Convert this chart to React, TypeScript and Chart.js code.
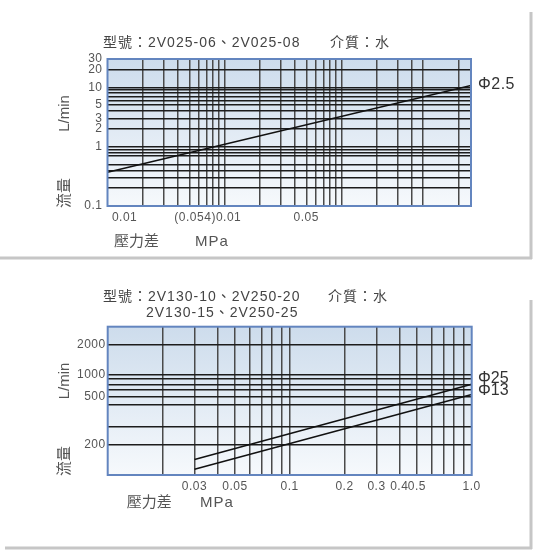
import React, { useEffect, useRef } from "react";
import { Chart, registerables } from "chart.js";

Chart.register(...registerables);

// ---------- Chart 1 : 2V025 (Φ2.5) ----------
const topCurveX = [0.001, 1.28];
const topCurveY = [0.37, 10.7];
const topXGrid = [
  0.002, 0.003, 0.004, 0.005, 0.006, 0.007, 0.008, 0.009, 0.01,
  0.02, 0.03, 0.04, 0.05, 0.06, 0.07, 0.08, 0.09, 0.1,
  0.2, 0.3, 0.4, 0.5, 1.0,
];
const topXLabelValues = [0.0014, 0.0072, 0.05];
const topXLabels = ["0.01", "(0.054)0.01", "0.05"];
const topYGrid = [20, 10, 9, 8, 7, 6, 5, 4, 3, 2, 1, 0.9, 0.8, 0.7, 0.5, 0.4, 0.3, 0.2];
const topYLabelValues = [30, 20, 10, 5, 3, 2, 1, 0.1];
const topYLabels = ["30", "20", "10", "5", "3", "2", "1", "0.1"];

// ---------- Chart 2 : 2V130 / 2V250 (Φ25, Φ13) ----------
const botCurveX = [0.03, 1.0];
const botPhi25Y = [143, 800];
const botPhi13Y = [114, 635];
const botXGrid = [
  0.02, 0.03, 0.04, 0.05, 0.06, 0.07, 0.08, 0.09, 0.1,
  0.2, 0.3, 0.4, 0.5, 0.6, 0.7, 0.8, 0.9,
];
const botXLabelValues = [0.03, 0.05, 0.1, 0.2, 0.3, 0.4, 0.5, 1.0];
const botXLabels = ["0.03", "0.05", "0.1", "0.2", "0.3", "0.4", "0.5", "1.0"];
const botYGrid = [2000, 1000, 900, 800, 700, 600, 500, 300, 200];
const botYLabelValues = [2000, 1000, 600, 200];
const botYLabels = ["2000", "1000", "500", "200"];

const FONT = "'Liberation Sans', Arial, 'Noto Sans CJK TC', sans-serif";

const near = (a: number, b: number) => Math.abs(a - b) / Math.abs(b) < 1e-6;
const has = (arr: number[], v: number) => arr.some((g) => near(g, v));
const merge = (grid: number[], labels: number[]) => {
  const all = [...grid];
  labels.forEach((v) => {
    if (!has(all, v)) all.push(v);
  });
  return all.sort((a, b) => a - b);
};

type TextItem = {
  text: string;
  x: number;
  y: number;
  size: number;
  rotate?: boolean;
  color?: string;
  spacing?: string;
};

type Spec = {
  top: number;
  w: number;
  h: number;
  padTop: number;
  padRight: number;
  yAxisW: number;
  xAxisH: number;
  xMin: number;
  xMax: number;
  yMin: number;
  yMax: number;
  xGrid: number[];
  xLabelValues: number[];
  xLabels: string[];
  yGrid: number[];
  yLabelValues: number[];
  yLabels: string[];
  tickSize: number;
  yTickPad: number;
  datasets: { xs: number[]; ys: number[] }[];
  texts: TextItem[];
  frame: { vx: number; vy0: number; vy1: number; hy: number; hx0: number; hx1: number };
};

function buildConfig(spec: Spec): any {
  const decor = {
    id: "decor",
    beforeDraw(chart: any) {
      const { ctx, chartArea: a } = chart;
      ctx.save();
      const g = ctx.createLinearGradient(0, a.top, 0, a.bottom);
      g.addColorStop(0, "#cddcec");
      g.addColorStop(1, "#f6f9fc");
      ctx.fillStyle = g;
      ctx.fillRect(a.left, a.top, a.right - a.left, a.bottom - a.top);
      ctx.restore();
      try {
        ctx.letterSpacing = "0.5px";
      } catch (e) {}
    },
    afterDraw(chart: any) {
      const { ctx, chartArea: a } = chart;
      ctx.save();
      ctx.strokeStyle = "#6385bf";
      ctx.lineWidth = 2;
      ctx.strokeRect(a.left, a.top, a.right - a.left, a.bottom - a.top);
      // panel frame
      ctx.strokeStyle = "#c6c6c6";
      ctx.lineWidth = 3;
      const f = spec.frame;
      ctx.beginPath();
      ctx.moveTo(f.vx, f.vy0);
      ctx.lineTo(f.vx, f.vy1);
      ctx.moveTo(f.hx0, f.hy);
      ctx.lineTo(f.hx1, f.hy);
      ctx.stroke();
      ctx.restore();
      spec.texts.forEach((t) => {
        ctx.save();
        ctx.font = `${t.size}px ${FONT}`;
        ctx.fillStyle = t.color || "#444";
        try {
          ctx.letterSpacing = t.spacing || "0px";
        } catch (e) {}
        ctx.textBaseline = "middle";
        if (t.rotate) {
          ctx.translate(t.x, t.y);
          ctx.rotate(-Math.PI / 2);
          ctx.textAlign = "center";
          ctx.fillText(t.text, 0, 0);
        } else {
          ctx.textAlign = "left";
          ctx.fillText(t.text, t.x, t.y);
        }
        ctx.restore();
      });
    },
  };

  const labelFor = (vals: number[], labels: string[]) => (v: number) => {
    const i = vals.findIndex((l) => near(v, l));
    return i >= 0 ? labels[i] : "";
  };

  return {
    type: "line",
    data: {
      datasets: spec.datasets.map((d) => ({
        data: d.xs.map((x, i) => ({ x, y: d.ys[i] })),
        borderColor: "#111",
        borderWidth: 1.5,
        pointRadius: 0,
        fill: false,
        tension: 0,
      })),
    },
    options: {
      responsive: false,
      animation: false,
      events: [],
      layout: { padding: { left: 0, top: spec.padTop, right: spec.padRight, bottom: 0 } },
      plugins: { legend: { display: false }, tooltip: { enabled: false }, title: { display: false } },
      scales: {
        x: {
          type: "logarithmic",
          min: spec.xMin,
          max: spec.xMax,
          afterBuildTicks: (s: any) => {
            s.ticks = merge(spec.xGrid, spec.xLabelValues).map((v) => ({ value: v }));
          },
          afterFit: (s: any) => {
            s.height = spec.xAxisH;
          },
          grid: {
            color: (c: any) => (c.tick && has(spec.xGrid, c.tick.value) ? "#4a4a4a" : "rgba(0,0,0,0)"),
            lineWidth: 1.5,
            drawTicks: false,
          },
          border: { display: false },
          ticks: {
            autoSkip: false,
            maxRotation: 0,
            minRotation: 0,
            padding: 4,
            color: "#555",
            font: { family: FONT, size: spec.tickSize },
            callback: labelFor(spec.xLabelValues, spec.xLabels),
          },
        },
        y: {
          type: "logarithmic",
          min: spec.yMin,
          max: spec.yMax,
          afterBuildTicks: (s: any) => {
            s.ticks = merge(spec.yGrid, spec.yLabelValues).map((v) => ({ value: v }));
          },
          afterFit: (s: any) => {
            s.width = spec.yAxisW;
          },
          grid: {
            color: (c: any) => (c.tick && has(spec.yGrid, c.tick.value) ? "#1c1c1c" : "rgba(0,0,0,0)"),
            lineWidth: 1.5,
            drawTicks: false,
          },
          border: { display: false },
          ticks: {
            autoSkip: false,
            padding: spec.yTickPad,
            color: "#555",
            font: { family: FONT, size: spec.tickSize },
            callback: labelFor(spec.yLabelValues, spec.yLabels),
          },
        },
      },
    },
    plugins: [decor],
  };
}

const topSpec: Spec = {
  top: 0,
  w: 537,
  h: 260,
  padTop: 59,
  padRight: 66,
  yAxisW: 107.5,
  xAxisH: 54,
  xMin: 0.001,
  xMax: 1.28,
  yMin: 0.1,
  yMax: 30,
  xGrid: topXGrid,
  xLabelValues: topXLabelValues,
  xLabels: topXLabels,
  yGrid: topYGrid,
  yLabelValues: topYLabelValues,
  yLabels: topYLabels,
  tickSize: 12,
  yTickPad: 5,
  datasets: [{ xs: topCurveX, ys: topCurveY }],
  texts: [
    { text: "型號：2V025-06、2V025-08", x: 103, y: 43, size: 14, spacing: "1px" },
    { text: "介質：水", x: 330, y: 43, size: 14, spacing: "1px" },
    { text: "L/min", x: 65, y: 113.5, size: 15, rotate: true, color: "#555" },
    { text: "流量", x: 65, y: 193, size: 15, rotate: true, color: "#555" },
    { text: "壓力差", x: 114, y: 242, size: 15, color: "#555" },
    { text: "MPa", x: 195, y: 242, size: 15, color: "#555", spacing: "1px" },
    { text: "Φ2.5", x: 478, y: 85, size: 16, color: "#333", spacing: "0.5px" },
  ],
  frame: { vx: 531, vy0: 12, vy1: 259, hy: 258, hx0: 0, hx1: 532 },
};

const botSpec: Spec = {
  top: 270,
  w: 537,
  h: 284,
  padTop: 56.7,
  padRight: 65.3,
  yAxisW: 107.7,
  xAxisH: 79,
  xMin: 0.01,
  xMax: 1.0,
  yMin: 100,
  yMax: 3000,
  xGrid: botXGrid,
  xLabelValues: botXLabelValues,
  xLabels: botXLabels,
  yGrid: botYGrid,
  yLabelValues: botYLabelValues,
  yLabels: botYLabels,
  tickSize: 12,
  yTickPad: 2,
  datasets: [
    { xs: botCurveX, ys: botPhi25Y },
    { xs: botCurveX, ys: botPhi13Y },
  ],
  texts: [
    { text: "型號：2V130-10、2V250-20", x: 103, y: 26.7, size: 14, spacing: "1px" },
    { text: "介質：水", x: 328, y: 26.7, size: 14, spacing: "1px" },
    { text: "2V130-15、2V250-25", x: 146, y: 43, size: 14, spacing: "1px" },
    { text: "L/min", x: 65, y: 111, size: 15, rotate: true, color: "#555" },
    { text: "流量", x: 65, y: 191, size: 15, rotate: true, color: "#555" },
    { text: "壓力差", x: 126.7, y: 232.7, size: 15, color: "#555" },
    { text: "MPa", x: 200, y: 232.7, size: 15, color: "#555", spacing: "1px" },
    { text: "Φ25", x: 478, y: 109, size: 16, color: "#333" },
    { text: "Φ13", x: 478, y: 121, size: 16, color: "#333" },
  ],
  frame: { vx: 531, vy0: 30, vy1: 279, hy: 278, hx0: 5, hx1: 532 },
};

function LogChart({ spec }: { spec: Spec }) {
  const ref = useRef<HTMLCanvasElement>(null);
  useEffect(() => {
    if (!ref.current) return;
    const chart = new Chart(ref.current, buildConfig(spec));
    return () => chart.destroy();
  }, [spec]);
  return (
    <canvas
      ref={ref}
      width={spec.w}
      height={spec.h}
      style={{ position: "absolute", left: 0, top: spec.top, width: spec.w, height: spec.h }}
    />
  );
}

export default function App() {
  useEffect(() => {
    document.body.style.margin = "0";
    document.body.style.background = "#ffffff";
  }, []);
  return (
    <div style={{ position: "relative", width: 537, height: 554, background: "#fff", overflow: "hidden" }}>
      <LogChart spec={topSpec} />
      <LogChart spec={botSpec} />
    </div>
  );
}
